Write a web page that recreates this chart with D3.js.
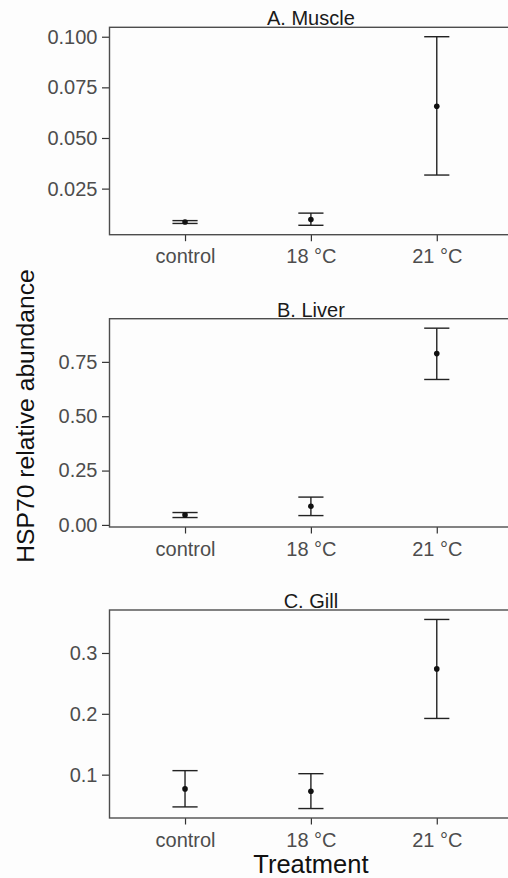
<!DOCTYPE html>
<meta charset="utf-8">
<title>HSP70 relative abundance</title>
<style>
body { margin: 0; background: #fdfdfd; }
svg { display: block; font-family: "Liberation Sans", Arial, sans-serif; }
.axis path { display: none; }
.axis line { stroke: #333; stroke-width: 1.2; }
.axis text { fill: #4d4d4d; font-size: 20px; }
</style>
<body>
<svg width="508" height="878"></svg>
<script src="https://cdn.jsdelivr.net/npm/d3@7"></script>
<script>

var treatments = ["control", "18 °C", "21 °C"];

var panelTitles = ["A. Muscle", "B. Liver", "C. Gill"];

// mean, lower and upper end of the error bar, per treatment
var muscleMean  = [0.0085, 0.0097, 0.0657];
var muscleLower = [0.0078, 0.0069, 0.0317];
var muscleUpper = [0.0092, 0.0129, 0.1000];

var liverMean  = [0.046, 0.086, 0.788];
var liverLower = [0.034, 0.043, 0.669];
var liverUpper = [0.057, 0.128, 0.905];

var gillMean  = [0.0766, 0.0728, 0.2738];
var gillLower = [0.0470, 0.0443, 0.1924];
var gillUpper = [0.1066, 0.1016, 0.3551];

var muscleTicks = [0.025, 0.050, 0.075, 0.100];
var liverTicks  = [0.00, 0.25, 0.50, 0.75];
var gillTicks   = [0.1, 0.2, 0.3];

var panels = [
  {title: panelTitles[0], mean: muscleMean, lower: muscleLower, upper: muscleUpper, ticks: muscleTicks, fmt: ".3f", top: 27.3, bottom: 234.7},
  {title: panelTitles[1], mean: liverMean,  lower: liverLower,  upper: liverUpper,  ticks: liverTicks,  fmt: ".2f", top: 318.7, bottom: 527},
  {title: panelTitles[2], mean: gillMean,   lower: gillLower,   upper: gillUpper,   ticks: gillTicks,   fmt: ".1f", top: 610, bottom: 818}
];

var svg = d3.select("svg"),
    left = 109.5,
    right = 512.3;

// ggplot style discrete scale: 0.6 expansion on each side
var x = d3.scalePoint().domain(treatments).range([left + (right - left) * 0.6 / 3.2, right - (right - left) * 0.6 / 3.2]);
var step = x.step();
var capHalf = step * 0.1;

panels.forEach(function(p) {
  var lo = d3.min(p.lower), hi = d3.max(p.upper), pad = (hi - lo) * 0.05;
  var y = d3.scaleLinear().domain([lo - pad, hi + pad]).range([p.bottom, p.top]);

  var g = svg.append("g");

  var rows = treatments.map(function(t, i) {
    return {t: t, m: p.mean[i], lo: p.lower[i], hi: p.upper[i]};
  });

  g.append("g")
      .attr("class", "axis")
      .attr("transform", "translate(" + left + ",0)")
      .call(d3.axisLeft(y).tickValues(p.ticks).tickFormat(d3.format(p.fmt)).tickSize(7.5).tickPadding(4.5));

  g.append("g")
      .attr("class", "axis")
      .attr("transform", "translate(0," + p.bottom + ")")
      .call(d3.axisBottom(x).tickSize(6.5).tickPadding(4))
    .selectAll("text")
      .attr("dy", "0.9em");

  // panel border
  g.append("rect")
      .attr("x", left)
      .attr("y", p.top)
      .attr("width", right - left)
      .attr("height", p.bottom - p.top)
      .attr("fill", "none")
      .attr("stroke", "#4d4d4d")
      .attr("stroke-width", 1.4);

  g.append("text")
      .attr("x", (left + right) / 2)
      .attr("y", p.top - 2)
      .attr("text-anchor", "middle")
      .attr("fill", "#1a1a1a")
      .style("font-size", "20px")
      .text(p.title);

  var bars = g.selectAll(".err").data(rows).enter().append("g").attr("class", "err")
      .attr("stroke", "#222").attr("stroke-width", 1.4);
  bars.append("line")
      .attr("x1", function(d) { return x(d.t); }).attr("x2", function(d) { return x(d.t); })
      .attr("y1", function(d) { return y(d.lo); }).attr("y2", function(d) { return y(d.hi); });
  bars.append("line")
      .attr("x1", function(d) { return x(d.t) - capHalf; }).attr("x2", function(d) { return x(d.t) + capHalf; })
      .attr("y1", function(d) { return y(d.lo); }).attr("y2", function(d) { return y(d.lo); });
  bars.append("line")
      .attr("x1", function(d) { return x(d.t) - capHalf; }).attr("x2", function(d) { return x(d.t) + capHalf; })
      .attr("y1", function(d) { return y(d.hi); }).attr("y2", function(d) { return y(d.hi); });

  g.selectAll(".pt").data(rows).enter().append("circle")
      .attr("class", "pt")
      .attr("cx", function(d) { return x(d.t); })
      .attr("cy", function(d) { return y(d.m); })
      .attr("r", 2.8)
      .attr("fill", "#111");
});

svg.append("text")
    .attr("transform", "translate(33.5,416) rotate(-90)")
    .attr("text-anchor", "middle")
    .attr("fill", "#111")
    .style("font-size", "24.7px")
    .text("HSP70 relative abundance");

svg.append("text")
    .attr("x", (left + right) / 2)
    .attr("y", 873)
    .attr("text-anchor", "middle")
    .attr("fill", "#111")
    .style("font-size", "25.5px")
    .text("Treatment");

</script>
</body>
